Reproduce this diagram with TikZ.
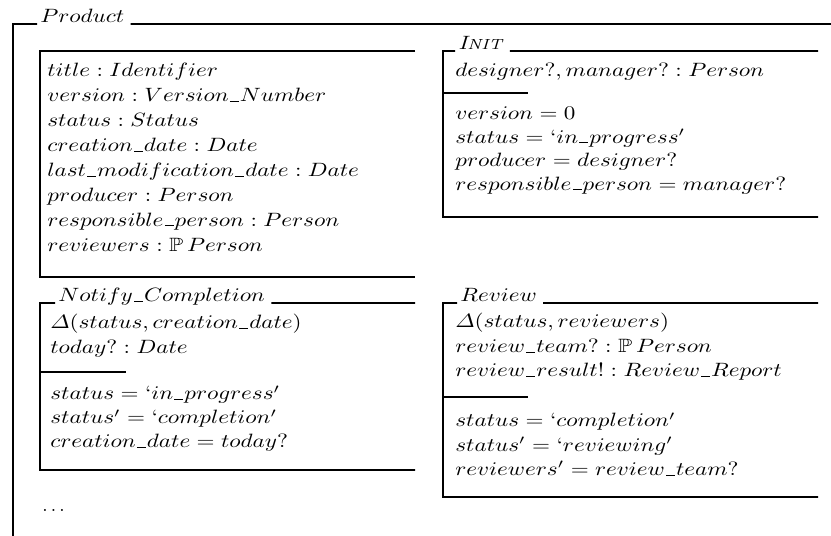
\documentclass[tikz,border=0pt]{standalone}
\usepackage{graphicx}
\usepackage{amsmath,amssymb}
% underscore inside identifiers, opening quote, wide text
\newcommand{\zu}{\mbox{\kern.05em\rule{.38em}{.5pt}\kern.05em}}
\newcommand{\zq}{\mbox{`}}
\newcommand{\zs}[1]{\scalebox{1.2}[1]{#1}}
\tikzset{
  zline/.style={line width=0.9pt},
  zt/.style={anchor=base west, inner sep=0pt},
}
\begin{document}
\begin{tikzpicture}[x=0.519pt,y=-0.519pt]
\useasboundingbox (0,0) rectangle (831,536);

% ---- outer schema Product ----
\node[zt] (prodT) at (40,22.5) {\zs{$Product$}};
\draw[zline] (prodT.base west) ++(-3,1.5) -- (13,24) -- (13,536);
\draw[zline] (prodT.base east) ++(6,1.5) -- (831,24);

% ---- state box ----
\draw[zline] (415,51) -- (40,51) -- (40,277) -- (415,277);
\foreach \t [count=\i from 0] in {
  {$title : Identifier$},
  {$version : Version\zu Number$},
  {$status : Status$},
  {$creation\zu date : Date$},
  {$last\zu modification\zu date : Date$},
  {$producer : Person$},
  {$responsible\zu person : Person$},
  {$reviewers : \mathbb{P}\,Person$}}
  \node[zt] (st\i) at (47,77+24.9*\i) {\zs{\t}};

% ---- Init ----
\node[zt] (initT) at (458,49.5) {\zs{\textit{I{\fontsize{7.6}{9}\selectfont NIT}}}};
\draw[zline] (initT.base west) ++(-3,1.5) -- (443,51) -- (443,217) -- (818,217);
\draw[zline] (initT.base east) ++(6,1.5) -- (818,51);
\draw[zline] (443,93) -- (528,93);
\node[zt] (in0) at (455,77) {\zs{$designer?, manager? : Person$}};
\foreach \t [count=\i from 0] in {
  {$version = 0$},
  {$status = \zq in\zu progress'$},
  {$producer = designer?$},
  {$responsible\zu person = manager?$}}
  \node[zt] (ip\i) at (455,120+23.4*\i) {\zs{\t}};

% ---- Notify_Completion ----
\node[zt] (notT) at (58,301.5) {\zs{$Notify\zu Completion$}};
\draw[zline] (notT.base west) ++(-3,1.5) -- (40,303) -- (40,470) -- (415,470);
\draw[zline] (notT.base east) ++(6,1.5) -- (415,303);
\draw[zline] (40,372) -- (126,372);
\node[zt] (nd0) at (50,329) {\zs{$\varDelta(status, creation\zu date)$}};
\node[zt] (nd1) at (50,354) {\zs{$today? : Date$}};
\foreach \t [count=\i from 0] in {
  {$status = \zq in\zu progress'$},
  {$status' = \zq completion'$},
  {$creation\zu date = today?$}}
  \node[zt] (np\i) at (50,400+24*\i) {\zs{\t}};

% ---- Review ----
\node[zt] (revT) at (460,301.5) {\zs{$Review$}};
\draw[zline] (revT.base west) ++(-3,1.5) -- (443,303) -- (443,497) -- (818,497);
\draw[zline] (revT.base east) ++(6,1.5) -- (818,303);
\draw[zline] (443,397) -- (528,397);
\node[zt] (rd0) at (455,328) {\zs{$\varDelta(status, reviewers)$}};
\node[zt] (rd1) at (455,352.5) {\zs{$review\zu team? : \mathbb{P}\,Person$}};
\node[zt] (rd2) at (455,377) {\zs{$review\zu result! : Review\zu Report$}};
\foreach \t [count=\i from 0] in {
  {$status = \zq completion'$},
  {$status' = \zq reviewing'$},
  {$reviewers' = review\zu team?$}}
  \node[zt] (rp\i) at (455,427+24.3*\i) {\zs{\t}};

% ---- continuation dots ----
\node[zt] (dots) at (42,512) {$\ldots$};
\end{tikzpicture}
\end{document}
